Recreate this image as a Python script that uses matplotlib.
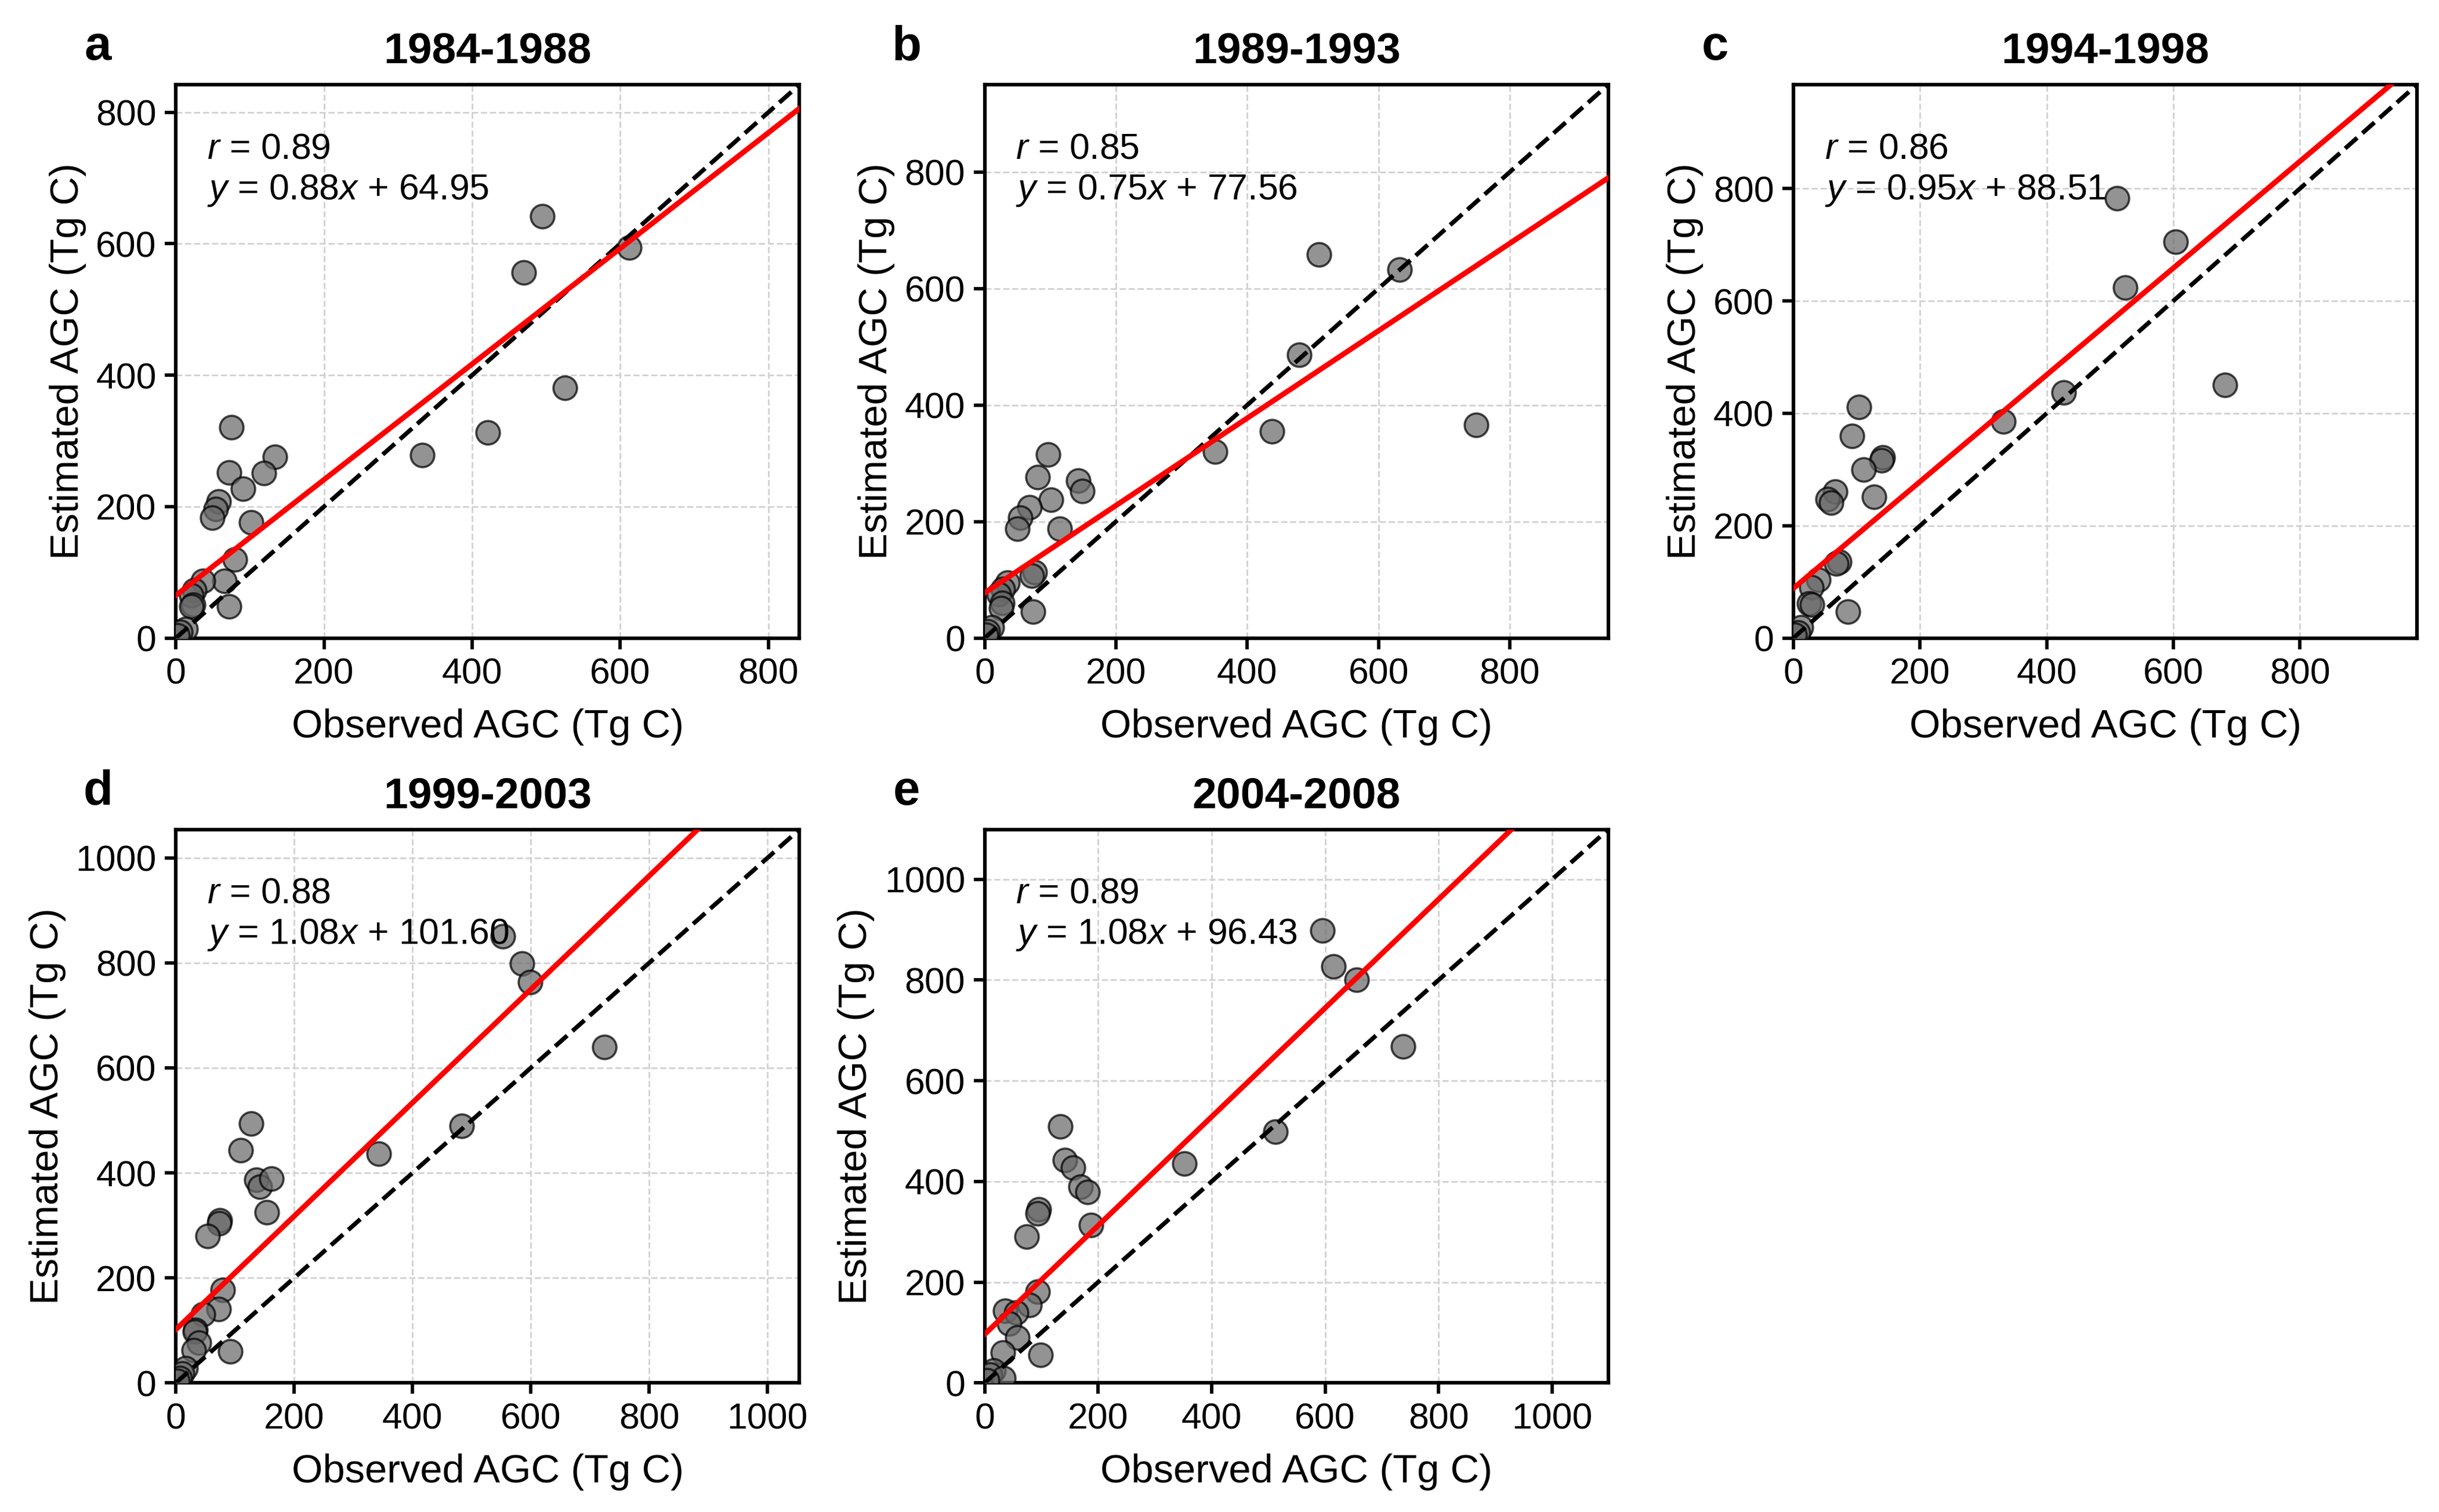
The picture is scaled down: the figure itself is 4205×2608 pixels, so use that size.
import numpy as np
import matplotlib
matplotlib.use("Agg")
import matplotlib.pyplot as plt

plt.rcParams['font.family'] = ['Liberation Sans', 'DejaVu Sans']
plt.rcParams['mathtext.fontset'] = 'custom'
plt.rcParams['mathtext.rm'] = 'Liberation Sans'
plt.rcParams['mathtext.it'] = 'Liberation Sans:italic'

letters = ['a', 'b', 'c', 'd', 'e']
periods = ['1984-1988', '1989-1993', '1994-1998', '1999-2003', '2004-2008']
r_vals = [0.89, 0.85, 0.86, 0.88, 0.89]
slopes = [0.88, 0.75, 0.95, 1.08, 1.08]
intercepts = [64.95, 77.56, 88.51, 101.60, 96.43]
lims = [842, 950, 985, 1054, 1099]
ticks = [[0, 200, 400, 600, 800], [0, 200, 400, 600, 800], [0, 200, 400, 600, 800],
         [0, 200, 400, 600, 800, 1000], [0, 200, 400, 600, 800, 1000]]

obs_a = [495, 470, 612, 525, 421, 333, 75, 134, 72, 119, 91, 58, 54, 49, 102, 80, 66, 72,
         37, 25, 21, 23, 21, 13, 6, 2]
est_a = [642, 556, 594, 381, 313, 278, 321, 276, 252, 251, 227, 208, 196, 183, 176, 120, 87, 48,
         87, 73, 65, 51, 48, 14, 9, 4]
obs_b = [509, 632, 479, 438, 351, 749, 97, 81, 143, 149, 101, 68, 54, 50, 114, 76, 72, 74,
         35, 28, 22, 27, 25, 11, 5, 2]
est_b = [658, 633, 486, 355, 320, 366, 315, 276, 270, 252, 237, 225, 207, 188, 188, 113, 107, 45,
         95, 84, 75, 60, 51, 18, 12, 6]
obs_c = [511, 604, 524, 682, 427, 332, 104, 93, 141, 139, 111, 127, 66, 54, 60, 72, 68, 86,
         39, 28, 25, 29, 12, 7, 2]
est_c = [783, 705, 624, 450, 437, 386, 411, 360, 322, 316, 300, 251, 261, 247, 241, 136, 133, 47,
         104, 90, 61, 59, 19, 10, 6]
obs_d = [553, 585, 599, 724, 483, 343, 127, 110, 136, 142, 162, 154, 74, 73, 54, 79, 72, 92,
         46, 33, 32, 39, 30, 16, 11, 7, 3]
est_d = [851, 799, 763, 640, 489, 437, 494, 443, 387, 374, 389, 325, 309, 304, 280, 177, 140, 60,
         131, 101, 97, 76, 62, 28, 18, 9, 4]
obs_e = [595, 615, 656, 737, 513, 352, 133, 141, 156, 169, 181, 188, 95, 93, 74, 93, 79, 99,
         36, 56, 43, 58, 32, 16, 10, 33, 5]
est_e = [898, 827, 801, 668, 499, 436, 509, 443, 428, 390, 379, 313, 344, 337, 291, 181, 155, 56,
         143, 140, 118, 90, 60, 24, 17, 10, 5]

obs_all = [obs_a, obs_b, obs_c, obs_d, obs_e]
est_all = [est_a, est_b, est_c, est_d, est_e]

fig = plt.figure(figsize=(4205 / 300, 2608 / 300), dpi=300)

lefts = [0.0721, 0.4037, 0.7353, 0.0721, 0.4037]
bottoms = [0.578, 0.578, 0.578, 0.0854, 0.0854]
w, h = 0.2557, 0.366

for i in range(5):
    ax = fig.add_axes([lefts[i], bottoms[i], w, h])
    lim = lims[i]
    ax.scatter(obs_all[i], est_all[i], s=95, facecolor='dimgray', edgecolor='black',
               linewidths=0.9, alpha=0.72, zorder=3)
    xx = np.array([0, lim])
    ax.plot(xx, xx, 'k--', lw=1.8, zorder=4)
    ax.plot(xx, slopes[i] * xx + intercepts[i], color='red', lw=2.2, zorder=4)
    ax.set_xlim(0, lim)
    ax.set_ylim(0, lim)
    ax.set_xticks(ticks[i])
    ax.set_yticks(ticks[i])
    ax.grid(True, ls='--', lw=0.7, color='lightgray', zorder=0)
    ax.set_axisbelow(True)
    for sp in ax.spines.values():
        sp.set_linewidth(1.5)
    ax.tick_params(labelsize=15, width=1.4, length=4.5)
    ax.set_xlabel('Observed AGC (Tg C)', fontsize=16.5, labelpad=7)
    ax.set_ylabel('Estimated AGC (Tg C)', fontsize=16.5, labelpad=4)
    ax.set_title(periods[i], fontsize=18, fontweight='bold', pad=9)
    ax.text(0.05, 0.915, '$r$ = %.2f\n$y$ = %.2f$x$ + %.2f' % (r_vals[i], slopes[i], intercepts[i]),
            transform=ax.transAxes, fontsize=15, va='top', ha='left', linespacing=1.25)
    fig.text(lefts[i] - 0.032, bottoms[i] + h + 0.025, letters[i], fontsize=20,
             fontweight='bold', va='center', ha='center')

fig.savefig('out.png', dpi=300)
